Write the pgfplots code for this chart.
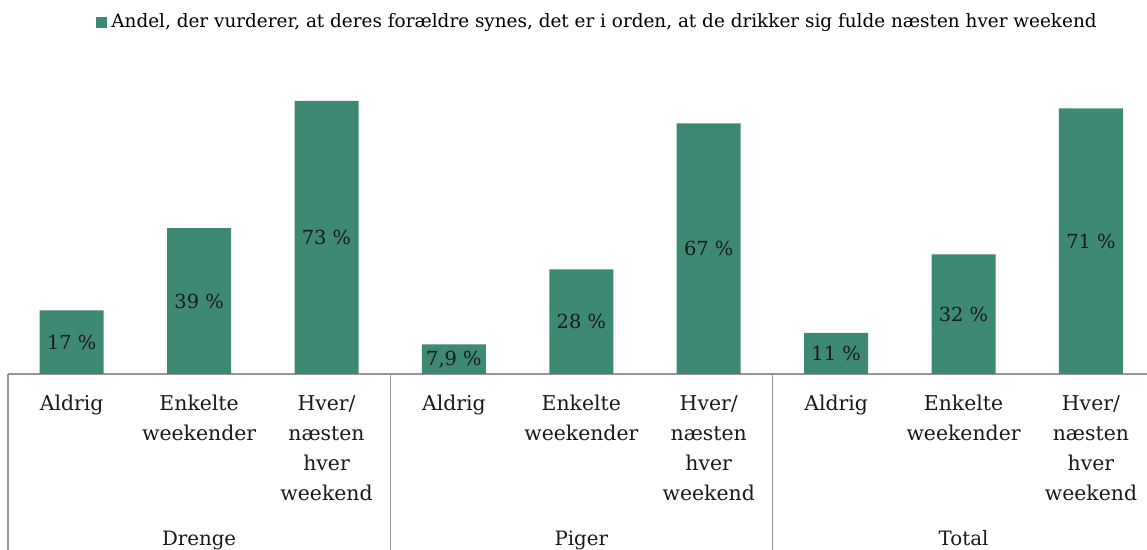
\documentclass[border=0pt]{standalone}
\usepackage{pgfplots}
\usepackage{pgfplotstable}
\pgfplotsset{compat=1.18}
\usepackage{fontspec}
\setmainfont{DejaVu Serif}
\newcommand\ft{\fontsize{10.2}{15}\selectfont}
\newcommand\fg{\fontsize{9.9}{15}\selectfont}
\newcommand\fb{\fontsize{9.7}{15}\selectfont}
\newcommand\fl{\fontsize{9.2}{15}\selectfont}
\definecolor{barc}{RGB}{62,137,116}
\definecolor{sepc}{RGB}{150,150,150}
\pgfplotstableread{
x v lab
0 17 {17 \%}
1 39 {39 \%}
2 73 {73 \%}
3 7.9 {7,9 \%}
4 28 {28 \%}
5 67 {67 \%}
6 11 {11 \%}
7 32 {32 \%}
8 71 {71 \%}
}\datatable
\begin{document}
\begin{tikzpicture}
\useasboundingbox (-4pt,-88pt) rectangle (569.5pt,187pt);
\begin{axis}[
  at={(0pt,0pt)}, anchor=south west,
  scale only axis, width=569.5pt, height=147pt,
  xmin=-0.5, xmax=8.44, ymin=0, ymax=78.6,
  axis y line=none,
  axis x line*=bottom,
  x axis line style={draw=sepc, line width=0.6pt},
  xtick={0,...,8}, major tick length=0pt,
  xticklabels={Aldrig,{Enkelte\\weekender},{Hver/\\næsten\\hver\\weekend},
               Aldrig,{Enkelte\\weekender},{Hver/\\næsten\\hver\\weekend},
               Aldrig,{Enkelte\\weekender},{Hver/\\næsten\\hver\\weekend}},
  xticklabel style={align=center, anchor=north, inner sep=0pt, yshift=-10.4pt, font=\ft, text=black!90},
  legend style={at={(axis description cs:0.0773,1.197)}, anchor=west, draw=none, fill=none,
    font=\fl, inner sep=0pt, legend cell align=left},
  legend image code/.code={\fill[barc] (0pt,-2.75pt) rectangle (5.5pt,2.75pt);},
  clip=false,
]
\addplot[ybar, bar width=32pt, bar shift=0pt, fill=barc, draw=none] table[x=x, y=v] {\datatable};
\addlegendentry{Andel, der vurderer, at deres forældre synes, det er i orden, at de drikker sig fulde næsten hver weekend}
\addplot[forget plot, draw=none, mark=none, nodes near coords, point meta=explicit symbolic,
  every node near coord/.append style={anchor=center, font=\fb, text=black!90}]
  table[x=x, y expr=\thisrow{v}/2, meta=lab] {\datatable};
\draw[sepc, line width=0.6pt] (axis cs:-0.5,0) -- ([yshift=-88pt]axis cs:-0.5,0);
\draw[sepc, line width=0.6pt] (axis cs:2.5,0) -- ([yshift=-88pt]axis cs:2.5,0);
\draw[sepc, line width=0.6pt] (axis cs:5.5,0) -- ([yshift=-88pt]axis cs:5.5,0);
\node[anchor=base, font=\fg, text=black!90, inner sep=0pt] at ([yshift=-86pt]axis cs:1,0) {Drenge};
\node[anchor=base, font=\fg, text=black!90, inner sep=0pt] at ([yshift=-86pt]axis cs:4,0) {Piger};
\node[anchor=base, font=\fg, text=black!90, inner sep=0pt] at ([yshift=-86pt]axis cs:7,0) {Total};
\end{axis}
\end{tikzpicture}
\end{document}
